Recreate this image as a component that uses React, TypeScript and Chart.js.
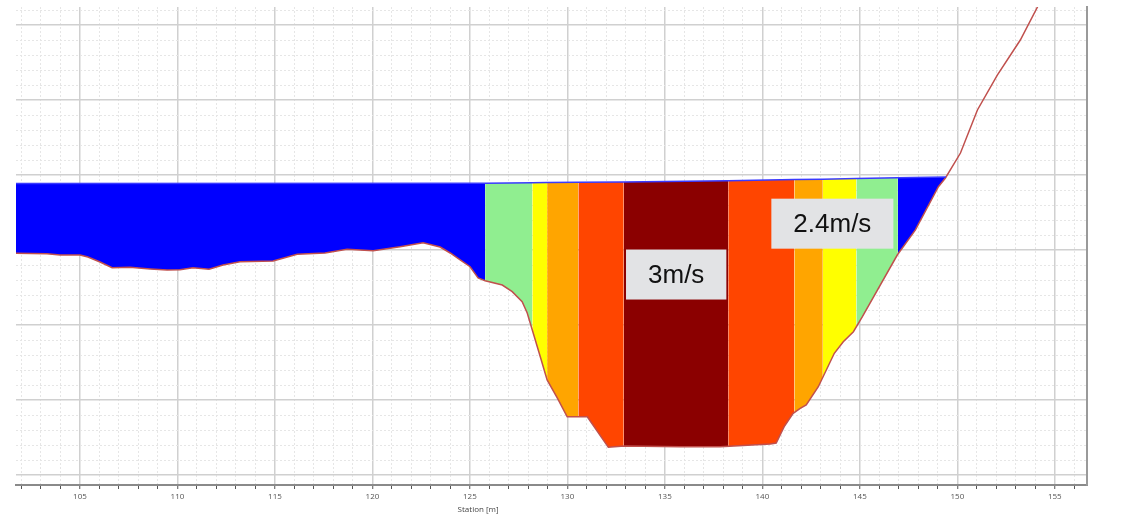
import React, { useEffect, useRef } from 'react';
import { Chart, registerables } from 'chart.js';

Chart.register(...registerables);

// Ground profile (station [m], elevation [m])
const groundStations = [
  101.6, 103.31, 103.98, 105.0, 105.41, 106.03, 106.65, 107.57, 108.6, 109.47,
  110.13, 110.8, 111.62, 112.34, 113.21, 114.91, 116.14, 117.57, 118.7, 120.04,
  121.42, 122.6, 123.47, 123.99, 124.5, 125.01, 125.42, 125.78, 126.66, 127.17,
  127.68, 127.94, 128.2, 128.61, 128.96, 129.48, 129.99, 131.02, 132.1, 132.92,
  135.79, 137.84, 140.41, 140.71, 141.12, 141.58, 141.94, 142.25, 142.87, 143.69,
  144.15, 144.67, 145.13, 146.92, 147.85, 149.03, 149.39, 150.16, 151.03, 152.05,
  153.23, 154.11, 154.52,
];
const groundElevations = [
  2.956, 2.951, 2.933, 2.933, 2.907, 2.84, 2.764, 2.769, 2.747, 2.733,
  2.737, 2.764, 2.743, 2.8, 2.844, 2.853, 2.943, 2.96, 3.009, 2.991,
  3.044, 3.097, 3.04, 2.96, 2.867, 2.777, 2.627, 2.591, 2.533, 2.444,
  2.311, 2.16, 1.933, 1.577, 1.267, 1.027, 0.777, 0.777, 0.369, 0.387,
  0.377, 0.377, 0.413, 0.427, 0.644, 0.823, 0.889, 0.933, 1.177, 1.623,
  1.777, 1.911, 2.111, 2.933, 3.267, 3.844, 3.96, 4.293, 4.867, 5.333,
  5.8, 6.24, 6.467,
];

// Velocity band boundaries (station) and water surface elevation at each boundary
const bandBounds = [
  101.6, 125.78, 128.2, 128.96, 130.56, 132.89, 138.25, 141.64, 143.1, 144.82, 146.95, 149.42,
];
const waterSurface = [
  3.887, 3.891, 3.896, 3.899, 3.903, 3.908, 3.924, 3.939, 3.944, 3.952, 3.963, 3.973,
];
const bandColors = [
  '#0000ff', '#90ee90', '#ffff00', '#ffa500', '#ff4500', '#8b0000',
  '#ff4500', '#ffa500', '#ffff00', '#90ee90', '#0000ff',
];

// Velocity annotations
const labelTexts = ['3m/s', '2.4m/s'];
const labelStations = [135.58, 143.59];
const labelElevations = [2.673, 3.351];

// Axis
const xMin = 101.72;
const xMax = 156.65;
const yMin = -0.1333;
const yMax = 6.24;
const xAxisTitle = 'Station [m]';
const xAxisTitleStation = 125.42;

const isMajorX = (v: number) => Math.abs(v / 5 - Math.round(v / 5)) < 1e-6;
const isMajorY = (v: number) => Math.abs(v - Math.round(v)) < 1e-6;

const overlayPlugin = {
  id: 'overlayText',
  afterDatasetsDraw(chart: any) {
    const { ctx, scales } = chart;
    const x = scales.x;
    const y = scales.y;
    ctx.save();
    ctx.font = '26px "Liberation Sans", Arial, sans-serif';
    ctx.textAlign = 'center';
    ctx.textBaseline = 'middle';
    labelTexts.forEach((t, i) => {
      const cx = x.getPixelForValue(labelStations[i]);
      const cy = y.getPixelForValue(labelElevations[i]);
      const w = ctx.measureText(t).width + 44;
      const h = 50;
      ctx.fillStyle = '#e2e3e5';
      ctx.fillRect(cx - w / 2, cy - h / 2, w, h);
      ctx.fillStyle = '#111111';
      ctx.fillText(t, cx, cy + 1);
    });
    ctx.restore();
  },
  afterDraw(chart: any) {
    const { ctx, scales, chartArea } = chart;
    ctx.save();
    ctx.font = '8px "Open Sans", sans-serif';
    ctx.fillStyle = '#444444';
    ctx.textAlign = 'center';
    ctx.textBaseline = 'middle';
    ctx.fillText(xAxisTitle, scales.x.getPixelForValue(xAxisTitleStation), chartArea.bottom + 25);
    ctx.restore();
  },
};

export default function App() {
  const canvasRef = useRef<HTMLCanvasElement | null>(null);

  useEffect(() => {
    if (!canvasRef.current) return;
    const wsData = bandBounds.map((s, i) => ({ x: s, y: waterSurface[i] }));
    const groundData = groundStations.map((s, i) => ({ x: s, y: groundElevations[i] }));
    const bandSets = bandColors.map((c, i) => ({
      label: 'band' + i,
      data: [
        { x: bandBounds[i], y: waterSurface[i] },
        { x: bandBounds[i + 1], y: waterSurface[i + 1] },
      ],
      borderColor: 'rgba(0,0,0,0)',
      borderWidth: 0,
      backgroundColor: c,
      pointRadius: 0,
      fill: 1,
    }));

    const chart = new Chart(canvasRef.current, {
      type: 'line',
      data: {
        datasets: [
          {
            label: 'Water surface',
            data: wsData,
            borderColor: '#3a3aff',
            borderWidth: 1.5,
            pointRadius: 0,
            fill: false,
          },
          {
            label: 'Ground',
            data: groundData,
            borderColor: '#c0504d',
            borderWidth: 1.5,
            pointRadius: 0,
            fill: false,
          },
          ...bandSets,
        ] as any,
      },
      options: {
        responsive: false,
        animation: false,
        layout: { padding: { left: 16, right: 34, top: 7, bottom: 0 } },
        plugins: {
          legend: { display: false },
          tooltip: { enabled: false },
        },
        scales: {
          x: {
            type: 'linear',
            min: xMin,
            max: xMax,
            afterFit: (s: any) => {
              s.height = 37;
            },
            ticks: {
              stepSize: 1,
              includeBounds: false,
              autoSkip: false,
              maxRotation: 0,
              padding: 3,
              color: '#555555',
              font: { family: '"Open Sans", sans-serif', size: 8 },
              callback: (v: any) => (isMajorX(Number(v)) ? String(Math.round(Number(v))) : ''),
            },
            grid: {
              color: (c: any) => (c.tick && isMajorX(c.tick.value) ? '#d0d0d0' : '#e6e6e6'),
              lineWidth: (c: any) => (c.tick && isMajorX(c.tick.value) ? 1.5 : 1),
              drawTicks: true,
              tickLength: 4,
              tickColor: '#555555',
              tickWidth: 1,
            },
            border: {
              display: true,
              color: '#8a8a8a',
              width: 2,
              dash: (c: any) => (c.tick && !isMajorX(c.tick.value) ? [2, 2] : []),
            },
          },
          y: {
            type: 'linear',
            position: 'right',
            min: yMin,
            max: yMax,
            afterFit: (s: any) => {
              s.width = 0;
            },
            ticks: {
              stepSize: 0.2,
              includeBounds: false,
              display: false,
            },
            grid: {
              color: (c: any) => (c.tick && isMajorY(c.tick.value) ? '#d0d0d0' : '#e6e6e6'),
              lineWidth: (c: any) => (c.tick && isMajorY(c.tick.value) ? 1.5 : 1),
              drawTicks: false,
            },
            border: {
              display: true,
              color: '#9a9a9a',
              width: 2,
              dash: (c: any) => (c.tick && !isMajorY(c.tick.value) ? [2, 2] : []),
            },
          },
        },
      } as any,
      plugins: [overlayPlugin],
    });
    return () => chart.destroy();
  }, []);

  return (
    <div style={{ position: 'absolute', left: 0, top: 0, width: 1121, height: 522, background: '#ffffff' }}>
      <canvas ref={canvasRef} width={1121} height={522} />
    </div>
  );
}
